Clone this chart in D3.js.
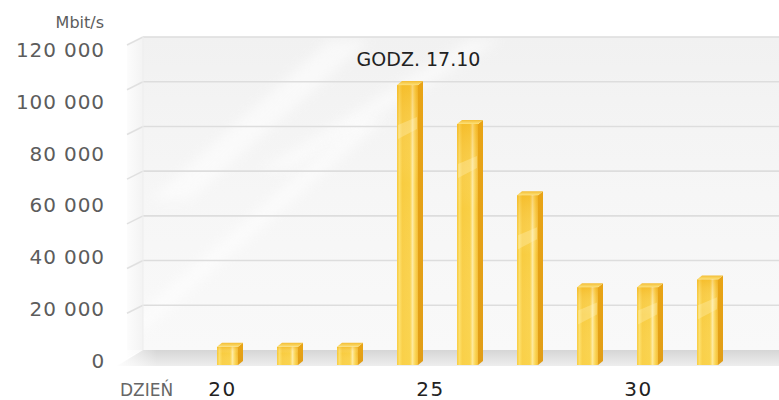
<!DOCTYPE html>
<html>
<head>
<meta charset="utf-8">
<script src="https://cdn.jsdelivr.net/npm/d3@7"></script>
<style>
  html, body { margin: 0; padding: 0; background: #ffffff; }
  svg { display: block; }
  text { font-family: "DejaVu Sans", sans-serif; }
</style>
</head>
<body>
<div id="chart"></div>
<script>
// ---- data ----
const bars = ["1", "2", "3", "4", "5", "6", "7", "8", "9"];
const values = [7000, 7000, 7000, 108000, 93000, 65500, 30000, 30000, 33000];
const yTicks = [0, 20000, 40000, 60000, 80000, 100000, 120000];
const wallTicks = [20000, 40000, 60000, 80000, 100000, 120000, 140000];
const dayTicks = [20, 25, 30];
const unitLabel = "Mbit/s";
const dayLabel = "DZIEŃ";
const peakLabel = "GODZ. 17.10";
const peakIndex = 3;

// ---- layout ----
const W = 779, H = 400;
const svg = d3.select("#chart").append("svg").attr("width", W).attr("height", H);
const defs = svg.append("defs");

const y = d3.scaleLinear().domain([0, 120000]).range([365, 54]);
const yWall = d3.scaleLinear().domain([0, 140000]).range([350, 37]);
const x = d3.scaleBand().domain(bars).range([217, 718]).paddingInner(0.65).paddingOuter(0);
const xDay = d3.scaleLinear().domain([20, 30]).range([222, 638]);

const wallLeft = 143, wallRight = W;
const sideDx = -16, sideDy = 8;
const barDx = 5, barDy = -4;

function lin(id, x1, y1, x2, y2, stops) {
  const g = defs.append("linearGradient").attr("id", id)
    .attr("x1", x1).attr("y1", y1).attr("x2", x2).attr("y2", y2);
  stops.forEach(s => g.append("stop").attr("offset", s[0]).attr("stop-color", s[1]).attr("stop-opacity", s[2] == null ? 1 : s[2]));
}
lin("wallG", 0, 0, 0, 1, [[0, "#f1f1f1"], [0.5, "#f6f6f6"], [1, "#f9f9f9"]]);
lin("sideG", 0, 0, 1, 0, [[0, "#fcfcfc"], [1, "#f3f3f3"]]);
lin("floorG", 0, 0, 0, 1, [[0, "#d6d6d6"], [0.6, "#e4e4e4"], [1, "#eeeeee"]]);
lin("floorFade", 0, 0, 1, 0, [[0, "#ffffff", 0.9], [0.06, "#ffffff", 0], [1, "#ffffff", 0]]);
lin("frontG", 0, 0, 1, 0, [[0, "#f6c32a"], [0.12, "#fddc5e"], [0.25, "#f8c936"], [0.62, "#f9cd3c"], [0.74, "#feeaa0"], [0.86, "#fbd24a"], [1, "#f0b320"]]);
lin("frontV", 0, 0, 0, 1, [[0, "#f0a818", 0.35], [0.35, "#ffffff", 0.05], [1, "#ffe680", 0.25]]);
lin("sideBarG", 0, 0, 0, 1, [[0, "#e8a416"], [1, "#e19e18"]]);
lin("capG", 0, 0, 0, 1, [[0, "#f3bd34"], [1, "#fde27a"]]);

const blur = defs.append("filter").attr("id", "soft").attr("x", "-20%").attr("y", "-20%").attr("width", "140%").attr("height", "140%");
blur.append("feGaussianBlur").attr("stdDeviation", 6);

// back wall
const wallTop = yWall.range()[1];
svg.append("rect").attr("x", wallLeft).attr("y", wallTop)
  .attr("width", wallRight - wallLeft).attr("height", yWall(0) - wallTop)
  .attr("fill", "url(#wallG)");

// soft glossy streaks on the wall
const clip = defs.append("clipPath").attr("id", "wallClip");
clip.append("rect").attr("x", wallLeft).attr("y", wallTop).attr("width", wallRight - wallLeft).attr("height", yWall(0) - wallTop);
const streakG = svg.append("g").attr("clip-path", "url(#wallClip)");
const streaks = [[150, 200, 330, 40, 40], [260, 170, 470, 40, 30], [120, 330, 360, 120, 25]];
streaks.forEach(s => {
  streakG.append("polygon")
    .attr("points", `${s[0]},${s[1]} ${s[0] + s[4]},${s[1]} ${s[2] + s[4]},${s[3]} ${s[2]},${s[3]}`)
    .attr("fill", "#ffffff").attr("opacity", 0.55).attr("filter", "url(#soft)");
});

// side wall
svg.append("polygon")
  .attr("points", `${wallLeft},${wallTop} ${wallLeft + sideDx},${wallTop + sideDy} ${wallLeft + sideDx},${yWall(0) + sideDy} ${wallLeft},${yWall(0)}`)
  .attr("fill", "url(#sideG)");

// gridlines
const grid = svg.append("g");
wallTicks.forEach(t => {
  grid.append("line").attr("x1", wallLeft).attr("x2", wallRight)
    .attr("y1", yWall(t)).attr("y2", yWall(t))
    .attr("stroke", "#dddddd").attr("stroke-width", 1.6);
  grid.append("line").attr("x1", wallLeft).attr("x2", wallLeft + sideDx)
    .attr("y1", yWall(t)).attr("y2", yWall(t) + sideDy)
    .attr("stroke", "#e0e0e0").attr("stroke-width", 1.6);
});
grid.append("line").attr("x1", wallLeft).attr("x2", wallLeft).attr("y1", wallTop).attr("y2", yWall(0))
  .attr("stroke", "#ededed").attr("stroke-width", 1);

// floor
const floorFront = y(0) + 1;
svg.append("polygon")
  .attr("points", `${wallLeft},${yWall(0)} ${wallRight},${yWall(0)} ${wallRight},${floorFront} ${wallLeft - 26},${floorFront}`)
  .attr("fill", "url(#floorG)");
svg.append("rect").attr("x", wallLeft - 26).attr("y", yWall(0)).attr("width", wallRight - wallLeft + 26)
  .attr("height", floorFront - yWall(0)).attr("fill", "url(#floorFade)");

// bars
const bw = x.bandwidth();
const gb = svg.append("g");
bars.forEach((b, i) => {
  const x0 = x(b), yt = y(values[i]), yb = y(0);
  const g = gb.append("g");
  g.append("polygon")
    .attr("points", `${x0 + bw},${yt} ${x0 + bw + barDx},${yt + barDy} ${x0 + bw + barDx},${yb + barDy} ${x0 + bw},${yb}`)
    .attr("fill", "url(#sideBarG)");
  g.append("polygon")
    .attr("points", `${x0},${yt} ${x0 + barDx},${yt + barDy} ${x0 + bw + barDx},${yt + barDy} ${x0 + bw},${yt}`)
    .attr("fill", "url(#capG)");
  g.append("rect").attr("x", x0).attr("y", yt).attr("width", bw).attr("height", yb - yt)
    .attr("fill", "url(#frontG)");
  g.append("rect").attr("x", x0).attr("y", yt).attr("width", bw).attr("height", yb - yt)
    .attr("fill", "url(#frontV)");
  const h = yb - yt;
  const gy = yt + Math.min(h * 0.3, 40);
  if (h > 30) {
    g.append("polygon")
      .attr("points", `${x0 + 1},${gy} ${x0 + bw - 1},${gy - 8} ${x0 + bw - 1},${gy + 4} ${x0 + 1},${gy + 14}`)
      .attr("fill", "#fff6c8").attr("opacity", 0.3);
  }
});

// y axis labels
const yAxis = d3.axisLeft(y).tickValues(yTicks).tickSize(0).tickPadding(0)
  .tickFormat(d => d3.format(",")(d).replace(/,/g, " "));
const ya = svg.append("g").attr("transform", "translate(105,-4)").call(yAxis);
ya.select(".domain").remove();
ya.selectAll("text").attr("font-size", 20).attr("fill", "#5c5c5c")
  .attr("font-family", "DejaVu Sans, sans-serif").attr("letter-spacing", 0.9);

svg.append("text").attr("x", 104).attr("y", 28).attr("text-anchor", "end")
  .attr("font-size", 16).attr("fill", "#5c5c5c").text(unitLabel);

// x day axis
const xAxis = d3.axisBottom(xDay).tickValues(dayTicks).tickSize(0).tickPadding(0).tickFormat(d3.format("d"));
const xa = svg.append("g").call(xAxis);
xa.select(".domain").remove();
xa.selectAll("text").attr("y", 396).attr("dy", 0).attr("font-size", 20).attr("fill", "#222222")
  .attr("font-family", "DejaVu Sans, sans-serif").attr("letter-spacing", 1.5);

svg.append("text").attr("x", 120).attr("y", 396).attr("font-size", 17)
  .attr("fill", "#666666").text(dayLabel);

// peak label
svg.append("text")
  .attr("x", x(bars[peakIndex]) + bw / 2 + 11)
  .attr("y", y(values[peakIndex]) - 19)
  .attr("text-anchor", "middle").attr("font-size", 19).attr("fill", "#222222")
  .text(peakLabel);
</script>
</body>
</html>
